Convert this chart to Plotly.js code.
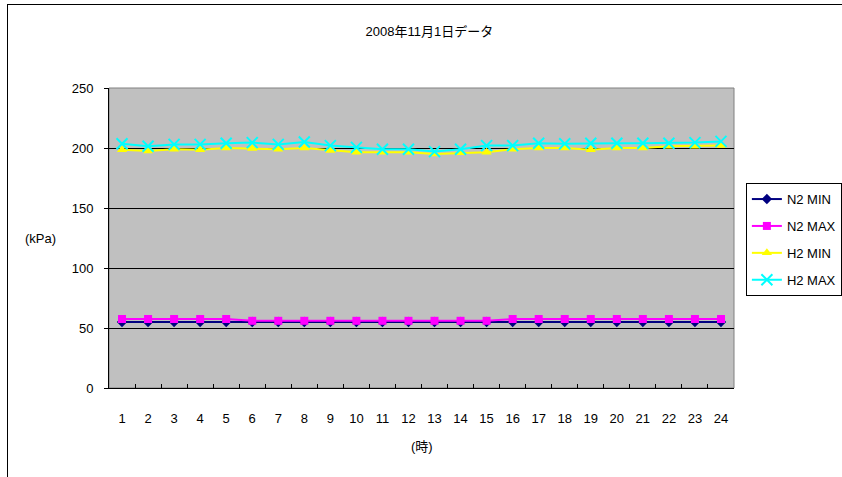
<!DOCTYPE html>
<html><head><meta charset="utf-8">
<script src="https://cdn.plot.ly/plotly-3.0.1.min.js"></script>
<style>body{margin:0;background:#fff}#frame{position:absolute;left:7px;top:4px;width:900px;height:600px;border-left:1px solid #000;border-top:1px solid #000;pointer-events:none}</style>
</head><body>
<div id="chart" style="width:842px;height:477px"></div>
<div id="frame"></div>
<script>
const hours = ['1','2','3','4','5','6','7','8','9','10','11','12','13','14','15','16','17','18','19','20','21','22','23','24'];
const n2Min = [55,55,55,55,55,55,55,55,55,55,55,55,55,55,55,55,55,55,55,55,55,55,55,55];
const n2Max = [57.5,57.5,57.5,57.5,57.5,56,56,56,56,56,56,56,56,56,56,57.5,57.5,57.5,57.5,57.5,57.5,57.5,57.5,57.5];
const h2Min = [198.5,197.5,199,198.5,200,199.5,199,200,198,196.5,196.5,196.5,195,196,196.5,199,200,200,198.5,200,200,201.5,201.5,202];
const h2Max = [203.5,201.5,203,203,204,204.5,203,205,202,200.5,199,199,197,199,202,202,204,203.5,204,204,204,204,204.5,205.5];
const names = ['N2 MIN','N2 MAX','H2 MIN','H2 MAX'];

const font = "'Liberation Sans Narrow','Liberation Sans',Arial,sans-serif";
const styles = [
  {color:'#000080', marker:{symbol:'diamond', size:8, color:'#000080'}},
  {color:'#FF00FF', marker:{symbol:'square', size:8, color:'#FF00FF'}},
  {color:'#FFFF00', marker:{symbol:'triangle-up', size:9, color:'#FFFF00'}},
  {color:'#00FFFF', marker:{symbol:'x-thin', size:11, color:'#00FFFF', line:{color:'#00FFFF', width:2}}}
];
const series = [n2Min, n2Max, h2Min, h2Max];
const traces = series.map((ys,i)=>({
  x: hours, y: ys, name: names[i], type:'scatter', mode:'lines+markers',
  line:{color:styles[i].color, width:2}, marker:styles[i].marker,
  legendgroup:'g'+i
}));

const layout = {
  width:842, height:477,
  margin:{l:109, r:108, t:88, b:89, autoexpand:false},
  paper_bgcolor:'#fff', plot_bgcolor:'#C0C0C0',
  font:{family:font, size:13, color:'#000'},
  title:{text:'2008年11月1日データ', x:0.51, xanchor:'center', y:0.935, yanchor:'middle',
    font:{family:"'Liberation Sans Narrow','Liberation Sans','Noto Sans CJK JP',sans-serif", size:13, color:'#000'}},
  xaxis:{type:'category', range:[-0.5,23.5], showgrid:false, zeroline:false,
    showline:true, linecolor:'#000', linewidth:1, mirror:false,
    ticks:'inside', tickson:'boundaries', ticklen:4, tickcolor:'#000',
    ticklabelstandoff:18, automargin:false,
    tickfont:{size:13, family:font}},
  yaxis:{range:[0,250], dtick:50, tick0:0, showgrid:true, gridcolor:'#000', gridwidth:1,
    zeroline:false, showline:true, linecolor:'#000', linewidth:1, automargin:false,
    ticks:'outside', ticklen:4, tickcolor:'#000', ticklabelstandoff:8,
    tickfont:{size:13, family:font}},
  showlegend:true,
  legend:{x:1.019, xanchor:'left', y:0.683, yanchor:'top', bordercolor:'#000', borderwidth:1,
    bgcolor:'#fff', font:{size:13, family:font}, traceorder:'grouped', tracegroupgap:7,
    itemwidth:30},
  shapes:[
    {type:'rect', xref:'paper', yref:'paper', x0:0, x1:1, y0:0, y1:1, line:{color:'#808080', width:1}, layer:'below'}
  ],
  annotations:[
    {text:'(kPa)', xref:'paper', yref:'paper', x:-0.11, y:0.5, xanchor:'center', yanchor:'middle', showarrow:false, font:{size:13, family:font}},
    {text:'(時)', xref:'paper', yref:'paper', x:0.5, y:-0.195, xanchor:'center', yanchor:'middle', showarrow:false, font:{size:13, family:"'Liberation Sans Narrow','Liberation Sans','Noto Sans CJK JP',sans-serif"}}
  ]
};
Plotly.newPlot('chart', traces, layout, {displayModeBar:false, staticPlot:true});
</script>
</body></html>
